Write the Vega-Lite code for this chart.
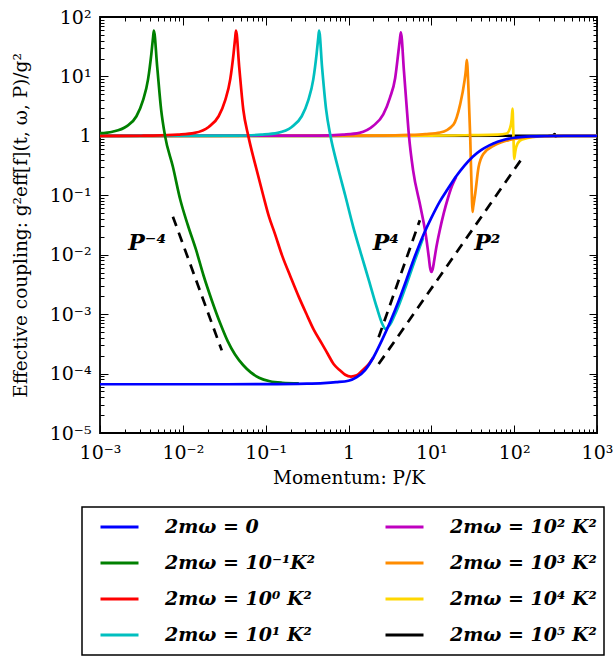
{
  "$schema": "https://vega.github.io/schema/vega-lite/v6.json",
  "width": 497,
  "height": 416,
  "autosize": {"type": "none"},
  "padding": {"left": 100, "top": 17, "right": 17, "bottom": 224},
  "background": "white",
  "config": {
    "view": {"stroke": "black", "strokeWidth": 1.8},
    "font": "DejaVu Serif",
    "axis": {"domain": false, "grid": false, "tickColor": "black", "tickWidth": 1, "labelColor": "black", "titleColor": "black", "labelFont": "DejaVu Serif", "labelFontSize": 19, "titleFont": "DejaVu Serif", "titleFontSize": 18.5, "titleFontWeight": "normal", "labelFlush": false, "labelOverlap": false, "labelBound": false}
  },
  "datasets": {
    "curves": [
      {"s":"2mω = 10⁵ K²","P":0.001,"g":1},{"s":"2mω = 10⁵ K²","P":251.2,"g":1.005},{"s":"2mω = 10⁵ K²","P":295.1,"g":1.019},{"s":"2mω = 10⁵ K²","P":309,"g":1.072},{"s":"2mω = 10⁵ K²","P":316.2,"g":0.966},{"s":"2mω = 10⁵ K²","P":331.1,"g":1},{"s":"2mω = 10⁵ K²","P":1000,"g":1},

      {"s":"2mω = 10⁴ K²","P":0.001,"g":1},{"s":"2mω = 10⁴ K²","P":9.55,"g":1.009},{"s":"2mω = 10⁴ K²","P":30.2,"g":1.028},{"s":"2mω = 10⁴ K²","P":63.1,"g":1.047},{"s":"2mω = 10⁴ K²","P":81.28,"g":1.096},{"s":"2mω = 10⁴ K²","P":89.13,"g":1.349},{"s":"2mω = 10⁴ K²","P":93.33,"g":1.905},{"s":"2mω = 10⁴ K²","P":95.5,"g":2.884},{"s":"2mω = 10⁴ K²","P":97.72,"g":1.122},{"s":"2mω = 10⁴ K²","P":98.86,"g":0.631},{"s":"2mω = 10⁴ K²","P":100,"g":0.4074},{"s":"2mω = 10⁴ K²","P":102.3,"g":0.5012},{"s":"2mω = 10⁴ K²","P":105.7,"g":0.6457},{"s":"2mω = 10⁴ K²","P":117.5,"g":0.8318},{"s":"2mω = 10⁴ K²","P":141.3,"g":0.912},{"s":"2mω = 10⁴ K²","P":199.5,"g":0.9772},{"s":"2mω = 10⁴ K²","P":398.1,"g":1},{"s":"2mω = 10⁴ K²","P":1000,"g":1},

      {"s":"2mω = 10³ K²","P":0.001,"g":1},{"s":"2mω = 10³ K²","P":2.679,"g":1.009},{"s":"2mω = 10³ K²","P":5.346,"g":1.035},{"s":"2mω = 10³ K²","P":8.472,"g":1.072},{"s":"2mω = 10³ K²","P":12.76,"g":1.138},{"s":"2mω = 10³ K²","P":18.49,"g":1.549},{"s":"2mω = 10³ K²","P":22.28,"g":3.388},{"s":"2mω = 10³ K²","P":25.12,"g":8.318},{"s":"2mω = 10³ K²","P":26.18,"g":13.18},{"s":"2mω = 10³ K²","P":26.79,"g":19.05},{"s":"2mω = 10³ K²","P":28.05,"g":6.31},{"s":"2mω = 10³ K²","P":29.44,"g":1},{"s":"2mω = 10³ K²","P":30.2,"g":0.263},{"s":"2mω = 10³ K²","P":30.9,"g":0.08913},{"s":"2mω = 10³ K²","P":31.41,"g":0.05248},{"s":"2mω = 10³ K²","P":31.99,"g":0.0631},{"s":"2mω = 10³ K²","P":33.88,"g":0.1072},{"s":"2mω = 10³ K²","P":37.15,"g":0.2951},{"s":"2mω = 10³ K²","P":42.66,"g":0.5012},{"s":"2mω = 10³ K²","P":56.23,"g":0.6761},{"s":"2mω = 10³ K²","P":81.28,"g":0.8318},{"s":"2mω = 10³ K²","P":125.9,"g":0.9333},{"s":"2mω = 10³ K²","P":199.5,"g":0.9772},{"s":"2mω = 10³ K²","P":398.1,"g":1},{"s":"2mω = 10³ K²","P":1000,"g":1},

      {"s":"2mω = 10² K²","P":0.001,"g":1},{"s":"2mω = 10² K²","P":0.4285,"g":1.009},{"s":"2mω = 10² K²","P":0.8551,"g":1.047},{"s":"2mω = 10² K²","P":1.355,"g":1.122},{"s":"2mω = 10² K²","P":1.995,"g":1.479},{"s":"2mω = 10² K²","P":2.63,"g":2.291},{"s":"2mω = 10² K²","P":3.162,"g":4.365},{"s":"2mω = 10² K²","P":3.656,"g":9.333},{"s":"2mω = 10² K²","P":4.009,"g":26.3},{"s":"2mω = 10² K²","P":4.169,"g":41.69},{"s":"2mω = 10² K²","P":4.285,"g":54.95},{"s":"2mω = 10² K²","P":4.677,"g":12.02},{"s":"2mω = 10² K²","P":5.012,"g":3.388},{"s":"2mω = 10² K²","P":5.37,"g":1},{"s":"2mω = 10² K²","P":6.026,"g":0.263},{"s":"2mω = 10² K²","P":7.413,"g":0.0631},{"s":"2mω = 10² K²","P":8.511,"g":0.02291},{"s":"2mω = 10² K²","P":9.333,"g":0.008913},{"s":"2mω = 10² K²","P":9.661,"g":0.006026},{"s":"2mω = 10² K²","P":10,"g":0.005129},{"s":"2mω = 10² K²","P":10.35,"g":0.005623},{"s":"2mω = 10² K²","P":10.96,"g":0.008913},{"s":"2mω = 10² K²","P":11.48,"g":0.01318},{"s":"2mω = 10² K²","P":12.59,"g":0.02512},{"s":"2mω = 10² K²","P":14.13,"g":0.05012},{"s":"2mω = 10² K²","P":15.85,"g":0.08913},{"s":"2mω = 10² K²","P":17.78,"g":0.1445},{"s":"2mω = 10² K²","P":19.95,"g":0.2042},

      {"s":"2mω = 10¹  K²","P":0.001,"g":1},{"s":"2mω = 10¹  K²","P":0.04416,"g":1.009},{"s":"2mω = 10¹  K²","P":0.0881,"g":1.047},{"s":"2mω = 10¹  K²","P":0.1396,"g":1.122},{"s":"2mω = 10¹  K²","P":0.2065,"g":1.413},{"s":"2mω = 10¹  K²","P":0.2723,"g":2.138},{"s":"2mω = 10¹  K²","P":0.3273,"g":3.981},{"s":"2mω = 10¹  K²","P":0.3758,"g":8.913},{"s":"2mω = 10¹  K²","P":0.4121,"g":23.99},{"s":"2mω = 10¹  K²","P":0.4315,"g":44.67},{"s":"2mω = 10¹  K²","P":0.4416,"g":58.88},{"s":"2mω = 10¹  K²","P":0.4786,"g":14.79},{"s":"2mω = 10¹  K²","P":0.537,"g":2.754},{"s":"2mω = 10¹  K²","P":0.6053,"g":1},{"s":"2mω = 10¹  K²","P":0.7413,"g":0.302},{"s":"2mω = 10¹  K²","P":0.912,"g":0.1},{"s":"2mω = 10¹  K²","P":1.14,"g":0.02951},{"s":"2mω = 10¹  K²","P":1.413,"g":0.01047},{"s":"2mω = 10¹  K²","P":1.762,"g":0.003715},{"s":"2mω = 10¹  K²","P":2.188,"g":0.001318},{"s":"2mω = 10¹  K²","P":2.57,"g":0.0006761},{"s":"2mω = 10¹  K²","P":2.786,"g":0.0005623},{"s":"2mω = 10¹  K²","P":2.951,"g":0.0005888},{"s":"2mω = 10¹  K²","P":3.162,"g":0.0006607},{"s":"2mω = 10¹  K²","P":3.548,"g":0.000912},{"s":"2mω = 10¹  K²","P":3.981,"g":0.001318},{"s":"2mω = 10¹  K²","P":5.012,"g":0.003162},{"s":"2mω = 10¹  K²","P":6.31,"g":0.007943},{"s":"2mω = 10¹  K²","P":7.943,"g":0.01905},

      {"s":"2mω = 10⁰  K²","P":0.001,"g":1},{"s":"2mω = 10⁰  K²","P":0.003162,"g":1.005},{"s":"2mω = 10⁰  K²","P":0.004365,"g":1.009},{"s":"2mω = 10⁰  K²","P":0.00871,"g":1.047},{"s":"2mω = 10⁰  K²","P":0.01387,"g":1.122},{"s":"2mω = 10⁰  K²","P":0.02051,"g":1.413},{"s":"2mω = 10⁰  K²","P":0.02704,"g":2.138},{"s":"2mω = 10⁰  K²","P":0.03251,"g":3.981},{"s":"2mω = 10⁰  K²","P":0.03733,"g":8.913},{"s":"2mω = 10⁰  K²","P":0.04093,"g":23.99},{"s":"2mω = 10⁰  K²","P":0.04285,"g":44.67},{"s":"2mω = 10⁰  K²","P":0.04385,"g":58.88},{"s":"2mω = 10⁰  K²","P":0.04786,"g":14.79},{"s":"2mω = 10⁰  K²","P":0.0537,"g":2.754},{"s":"2mω = 10⁰  K²","P":0.06166,"g":1},{"s":"2mω = 10⁰  K²","P":0.07413,"g":0.3467},{"s":"2mω = 10⁰  K²","P":0.09333,"g":0.1},{"s":"2mω = 10⁰  K²","P":0.1096,"g":0.04365},{"s":"2mω = 10⁰  K²","P":0.1288,"g":0.02291},{"s":"2mω = 10⁰  K²","P":0.1585,"g":0.00955},{"s":"2mω = 10⁰  K²","P":0.1995,"g":0.004266},{"s":"2mω = 10⁰  K²","P":0.2512,"g":0.00195},{"s":"2mω = 10⁰  K²","P":0.309,"g":0.001023},{"s":"2mω = 10⁰  K²","P":0.3802,"g":0.0005495},{"s":"2mω = 10⁰  K²","P":0.4786,"g":0.0003162},{"s":"2mω = 10⁰  K²","P":0.5623,"g":0.0002138},{"s":"2mω = 10⁰  K²","P":0.6607,"g":0.0001445},{"s":"2mω = 10⁰  K²","P":0.7943,"g":0.0001122},{"s":"2mω = 10⁰  K²","P":0.912,"g":0.0000955},{"s":"2mω = 10⁰  K²","P":1.072,"g":0.00008913},{"s":"2mω = 10⁰  K²","P":1.259,"g":0.00009333},{"s":"2mω = 10⁰  K²","P":1.514,"g":0.0001175},{"s":"2mω = 10⁰  K²","P":1.778,"g":0.0001479},{"s":"2mω = 10⁰  K²","P":1.995,"g":0.0001862},

      {"s":"2mω = 10⁻¹K²","P":0.001,"g":1.109},{"s":"2mω = 10⁻¹K²","P":0.001413,"g":1.175},{"s":"2mω = 10⁻¹K²","P":0.002089,"g":1.445},{"s":"2mω = 10⁻¹K²","P":0.002754,"g":2.138},{"s":"2mω = 10⁻¹K²","P":0.003311,"g":3.981},{"s":"2mω = 10⁻¹K²","P":0.003802,"g":8.913},{"s":"2mω = 10⁻¹K²","P":0.004169,"g":23.99},{"s":"2mω = 10⁻¹K²","P":0.004365,"g":44.67},{"s":"2mω = 10⁻¹K²","P":0.004467,"g":58.88},{"s":"2mω = 10⁻¹K²","P":0.004898,"g":14.79},{"s":"2mω = 10⁻¹K²","P":0.00547,"g":2.754},{"s":"2mω = 10⁻¹K²","P":0.006095,"g":1},{"s":"2mω = 10⁻¹K²","P":0.007586,"g":0.302},{"s":"2mω = 10⁻¹K²","P":0.009333,"g":0.0832},{"s":"2mω = 10⁻¹K²","P":0.01148,"g":0.03162},{"s":"2mω = 10⁻¹K²","P":0.01445,"g":0.01202},{"s":"2mω = 10⁻¹K²","P":0.01778,"g":0.004467},{"s":"2mω = 10⁻¹K²","P":0.02239,"g":0.001698},{"s":"2mω = 10⁻¹K²","P":0.02818,"g":0.0007079},{"s":"2mω = 10⁻¹K²","P":0.03467,"g":0.0003548},{"s":"2mω = 10⁻¹K²","P":0.04266,"g":0.0002089},{"s":"2mω = 10⁻¹K²","P":0.0537,"g":0.000138},{"s":"2mω = 10⁻¹K²","P":0.06607,"g":0.0001047},{"s":"2mω = 10⁻¹K²","P":0.08318,"g":0.00008511},{"s":"2mω = 10⁻¹K²","P":0.1122,"g":0.00007413},{"s":"2mω = 10⁻¹K²","P":0.1585,"g":0.00006998},{"s":"2mω = 10⁻¹K²","P":0.2512,"g":0.00006839},

      {"s":"2mω = 0","P":0.001,"g":0.00006607},{"s":"2mω = 0","P":0.01,"g":0.00006607},{"s":"2mω = 0","P":0.1,"g":0.00006637},{"s":"2mω = 0","P":0.3162,"g":0.00006761},{"s":"2mω = 0","P":0.5012,"g":0.00006918},{"s":"2mω = 0","P":0.7079,"g":0.00007161},{"s":"2mω = 0","P":1,"g":0.00007586},{"s":"2mω = 0","P":1.259,"g":0.0000871},{"s":"2mω = 0","P":1.585,"g":0.0001148},{"s":"2mω = 0","P":1.995,"g":0.0001862},{"s":"2mω = 0","P":2.512,"g":0.0003548},{"s":"2mω = 0","P":3.162,"g":0.0007244},{"s":"2mω = 0","P":3.981,"g":0.001585},{"s":"2mω = 0","P":5.012,"g":0.003802},{"s":"2mω = 0","P":6.31,"g":0.009333},{"s":"2mω = 0","P":7.943,"g":0.02089},{"s":"2mω = 0","P":10,"g":0.04169},{"s":"2mω = 0","P":12.59,"g":0.07762},{"s":"2mω = 0","P":15.85,"g":0.1288},{"s":"2mω = 0","P":19.95,"g":0.2089},{"s":"2mω = 0","P":25.12,"g":0.3162},{"s":"2mω = 0","P":31.62,"g":0.4467},{"s":"2mω = 0","P":39.81,"g":0.5754},{"s":"2mω = 0","P":50.12,"g":0.6918},{"s":"2mω = 0","P":63.1,"g":0.7943},{"s":"2mω = 0","P":79.43,"g":0.875},{"s":"2mω = 0","P":100,"g":0.929},{"s":"2mω = 0","P":125.9,"g":0.9594},{"s":"2mω = 0","P":158.5,"g":0.9772},{"s":"2mω = 0","P":251.2,"g":0.9931},{"s":"2mω = 0","P":398.1,"g":1},{"s":"2mω = 0","P":1000,"g":1}
    ],
    "slopes": [
      {"seg":"a","P":0.007586,"g":0.04365},{"seg":"a","P":0.02951,"g":0.0002455},
      {"seg":"b","P":2.312,"g":0.0004074},{"seg":"b","P":7.261,"g":0.03802},
      {"seg":"c","P":2.312,"g":0.0001445},{"seg":"c","P":130.3,"g":0.4571}
    ],
    "labels": [
      {"t":"P⁻⁴","P":0.003715,"g":0.01549},
      {"t":"P⁴","P":2.818,"g":0.01549},
      {"t":"P²","P":47.32,"g":0.01549}
    ]
  },
  "layer": [
    {
      "data": {"name": "curves"},
      "mark": {"type": "line", "strokeWidth": 2.7, "interpolate": "monotone", "clip": true},
      "encoding": {
        "x": {"field": "P", "type": "quantitative",
          "scale": {"type": "log", "domain": [0.001, 1000], "nice": false},
          "axis": {"orient": "bottom", "values": [0.001, 0.01, 0.1, 1, 10, 100, 1000], "tickSize": -8, "labelPadding": 18,
            "labelExpr": "datum.value == 1 ? '1' : '10' + (datum.value < 1 ? '⁻' : '') + ['⁰','¹','²','³','⁴','⁵'][round(abs(log(datum.value)/LN10))]",
            "title": "Momentum: P/K", "titlePadding": 6}},
        "y": {"field": "g", "type": "quantitative",
          "scale": {"type": "log", "domain": [0.00001, 100], "nice": false},
          "axis": {"orient": "left", "values": [0.00001, 0.0001, 0.001, 0.01, 0.1, 1, 10, 100], "tickSize": -8, "labelPadding": 17,
            "labelExpr": "datum.value == 1 ? '1' : '10' + (datum.value < 1 ? '⁻' : '') + ['⁰','¹','²','³','⁴','⁵'][round(abs(log(datum.value)/LN10))]",
            "title": "Effective coupling: g²eff[f](t, ω, P)/g²", "titlePadding": 19}},
        "color": {"field": "s", "type": "nominal",
          "scale": {"domain": ["2mω = 0", "2mω = 10⁻¹K²", "2mω = 10⁰  K²", "2mω = 10¹  K²", "2mω = 10² K²", "2mω = 10³ K²", "2mω = 10⁴ K²", "2mω = 10⁵ K²"],
                    "range": ["#0000ff", "#008000", "#ff0000", "#00bfbf", "#bf00bf", "#ff8c00", "#ffd700", "#000000"]},
          "legend": {"orient": "none", "legendX": -18, "legendY": 490, "columns": 2, "title": null,
            "symbolType": "stroke", "symbolSize": 1444, "symbolStrokeWidth": 3, "symbolOffset": 10,
            "labelFont": "DejaVu Serif", "labelFontSize": 19, "labelFontStyle": "italic", "labelFontWeight": "bold", "labelColor": "black",
            "labelOffset": 25, "labelLimit": 400, "clipHeight": 26, "rowPadding": 10, "columnPadding": 55, "padding": 7,
            "strokeColor": "black",
            "encode": {"legend": {"update": {"strokeWidth": {"value": 1.5}}}}}}
      }
    },
    {
      "data": {"name": "slopes"},
      "mark": {"type": "line", "color": "black", "strokeWidth": 2.7, "strokeDash": [10, 7]},
      "encoding": {
        "x": {"field": "P", "type": "quantitative", "scale": {"type": "log", "domain": [0.001, 1000], "nice": false},
          "axis": {"orient": "top", "values": [0.001, 0.01, 0.1, 1, 10, 100, 1000], "tickSize": -8, "labels": false, "title": null}},
        "y": {"field": "g", "type": "quantitative", "scale": {"type": "log", "domain": [0.00001, 100], "nice": false},
          "axis": {"orient": "right", "values": [0.00001, 0.0001, 0.001, 0.01, 0.1, 1, 10, 100], "tickSize": -8, "labels": false, "title": null}},
        "detail": {"field": "seg"}
      }
    },
    {
      "data": {"name": "labels"},
      "mark": {"type": "text", "font": "DejaVu Serif", "fontSize": 22, "fontStyle": "italic", "fontWeight": "bold", "align": "center", "baseline": "middle", "color": "black"},
      "encoding": {
        "x": {"field": "P", "type": "quantitative", "scale": {"type": "log", "domain": [0.001, 1000], "nice": false},
          "axis": {"orient": "bottom", "values": [0.002,0.003,0.004,0.005,0.006,0.007,0.008,0.009,0.02,0.03,0.04,0.05,0.06,0.07,0.08,0.09,0.2,0.3,0.4,0.5,0.6,0.7,0.8,0.9,2,3,4,5,6,7,8,9,20,30,40,50,60,70,80,90,200,300,400,500,600,700,800,900], "tickSize": -4, "labels": false, "title": null}},
        "y": {"field": "g", "type": "quantitative", "scale": {"type": "log", "domain": [0.00001, 100], "nice": false},
          "axis": {"orient": "left", "values": [0.00002,0.00003,0.00004,0.00005,0.00006,0.00007,0.00008,0.00009,0.0002,0.0003,0.0004,0.0005,0.0006,0.0007,0.0008,0.0009,0.002,0.003,0.004,0.005,0.006,0.007,0.008,0.009,0.02,0.03,0.04,0.05,0.06,0.07,0.08,0.09,0.2,0.3,0.4,0.5,0.6,0.7,0.8,0.9,2,3,4,5,6,7,8,9,20,30,40,50,60,70,80,90], "tickSize": -4, "labels": false, "title": null}},
        "text": {"field": "t"}
      }
    },
    {
      "data": {"name": "labels"},
      "mark": {"type": "point", "opacity": 0},
      "encoding": {
        "x": {"field": "P", "type": "quantitative", "scale": {"type": "log", "domain": [0.001, 1000], "nice": false},
          "axis": {"orient": "top", "values": [0.002,0.003,0.004,0.005,0.006,0.007,0.008,0.009,0.02,0.03,0.04,0.05,0.06,0.07,0.08,0.09,0.2,0.3,0.4,0.5,0.6,0.7,0.8,0.9,2,3,4,5,6,7,8,9,20,30,40,50,60,70,80,90,200,300,400,500,600,700,800,900], "tickSize": -4, "labels": false, "title": null}},
        "y": {"field": "g", "type": "quantitative", "scale": {"type": "log", "domain": [0.00001, 100], "nice": false},
          "axis": {"orient": "right", "values": [0.00002,0.00003,0.00004,0.00005,0.00006,0.00007,0.00008,0.00009,0.0002,0.0003,0.0004,0.0005,0.0006,0.0007,0.0008,0.0009,0.002,0.003,0.004,0.005,0.006,0.007,0.008,0.009,0.02,0.03,0.04,0.05,0.06,0.07,0.08,0.09,0.2,0.3,0.4,0.5,0.6,0.7,0.8,0.9,2,3,4,5,6,7,8,9,20,30,40,50,60,70,80,90], "tickSize": -4, "labels": false, "title": null}}
      }
    }
  ],
  "resolve": {"axis": {"x": "independent", "y": "independent"}}
}
